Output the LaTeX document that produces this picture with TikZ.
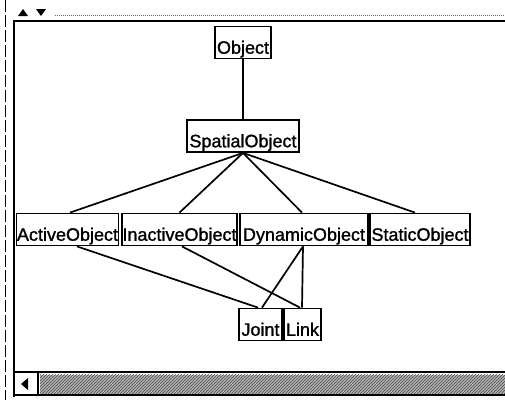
\documentclass[tikz,border=0pt]{standalone}
\usepackage{fontspec}
\setmainfont{Liberation Sans}
\newfontfamily\boxfont[FakeBold=1.2]{Liberation Sans}
\usetikzlibrary{patterns}
\begin{document}
\begin{tikzpicture}[x=1pt,y=-1pt,
  classbox/.style={draw,line width=1.8pt,inner xsep=0.5pt,inner ysep=0.5pt,
    minimum height=32pt,text height=24.5pt,text depth=2pt,
    font=\boxfont\fontsize{18}{18}\selectfont},
  link/.style={line width=1.7pt},
  frame/.style={line width=2.4pt},
  tri/.style={fill=black}]
\useasboundingbox (0,0) rectangle (505,400);
\fill[white] (0,0) rectangle (505,400);

% window chrome: left edges, top bar, bottom scrollbar
\draw[line width=0.9pt,dash pattern=on 12pt off 3pt] (5,0) -- (5,400);
\draw[frame] (14,20) -- (14,397);
\draw[frame] (14,21) -- (505,21);
\draw[line width=1pt,densely dotted,black!60] (55,15) -- (505,15);
\fill[tri] (18,16) -- (28,16) -- (23,9) -- cycle;
\fill[tri] (36,9) -- (46,9) -- (41,16) -- cycle;
\draw[line width=1.2pt] (14,372) -- (505,372);
\draw[line width=1.5pt] (14,395) -- (505,395);
\draw[line width=1.2pt] (38,373) -- (38,395);
\fill[black!30] (40,374.5) rectangle (505,393.5);
\draw[pattern=north east lines,pattern color=black!70,draw=none] (40,374.5) rectangle (505,393.5);
\fill[tri] (21,384) -- (28,378) -- (28,390) -- cycle;

% class hierarchy
\node[classbox,minimum width=56pt]  (object)   at (243,42.5)  {Object};
\node[classbox,minimum width=112pt] (spatial)  at (243,136)   {SpatialObject};
\node[classbox,minimum width=101pt] (active)   at (67.5,229.5) {ActiveObject};
\node[classbox,minimum width=115pt] (inactive) at (179.5,229.5) {InactiveObject};
\node[classbox,minimum width=128pt] (dynamic)  at (304,229.5) {DynamicObject};
\node[classbox,minimum width=100pt] (static)   at (420,229.5) {StaticObject};
\node[classbox,minimum width=43pt]  (joint)    at (260.5,324.5) {Joint};
\node[classbox,minimum width=37pt]  (linkbox)  at (302.5,324.5) {Link};

\draw[link] (object.south) -- (spatial.north);
\draw[link] (spatial.south) -- ([xshift=2.5pt]active.north);
\draw[link] (spatial.south) -- (inactive.north);
\draw[link] (spatial.south) -- ([xshift=-2pt]dynamic.north);
\draw[link] (spatial.south) -- ([xshift=-5pt]static.north);
\draw[link] ([xshift=9.5pt]active.south) -- ([xshift=-2.5pt]joint.north);
\draw[link] ([xshift=2.5pt]inactive.south) -- ([xshift=-2.5pt]linkbox.north);
\draw[link] ([xshift=-1pt]dynamic.south) -- ([xshift=1.5pt]joint.north);
\draw[link] ([xshift=-1pt]dynamic.south) -- ([xshift=-0.5pt]linkbox.north);
\end{tikzpicture}
\end{document}
